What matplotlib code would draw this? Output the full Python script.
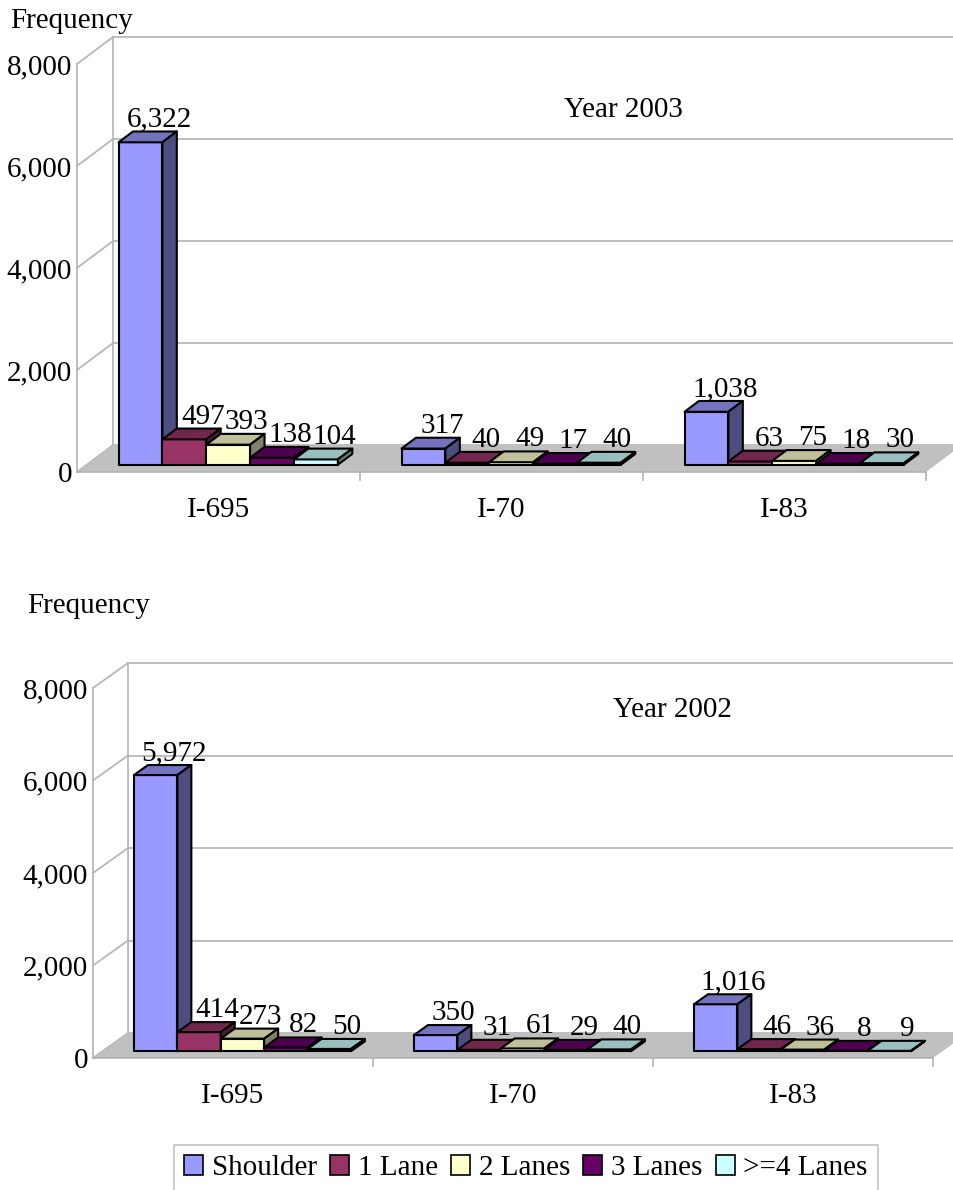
import matplotlib
matplotlib.use("Agg")
import matplotlib.pyplot as plt
from matplotlib.patches import Polygon, Patch
from matplotlib.colors import to_rgb

plt.rcParams['font.family'] = ['Liberation Serif', 'DejaVu Serif']

roads = ['I-695', 'I-70', 'I-83']
lanes = ['Shoulder', '1 Lane', '2 Lanes', '3 Lanes', '>=4 Lanes']
colors = ['#9999ff', '#993366', '#ffffcc', '#660066', '#ccffff']

# rows: road, columns: lane
freq_2003 = [[6322, 497, 393, 138, 104],
             [317, 40, 49, 17, 40],
             [1038, 63, 75, 18, 30]]
freq_2002 = [[5972, 414, 273, 82, 50],
             [350, 31, 61, 29, 40],
             [1016, 46, 36, 8, 9]]
yticks = [0, 2000, 4000, 6000, 8000]
ymax = 8000

W, H = 954, 1190
GRID = '#b3b3b3'
FS = 21

fig = plt.figure(figsize=(W / 100, H / 100), dpi=100)

# front plane of each chart in pixels: left, right, y of 0, y of 8000, depth (dx, dy)
panels = [
    dict(data=freq_2003, title='Year 2003', front=(77, 926, 472, 64), depth=(36, 27),
         title_xy=(623, 110), freq_xy=(10, 28)),
    dict(data=freq_2002, title='Year 2002', front=(93, 933, 1058, 688), depth=(35, 25),
         title_xy=(672, 710), freq_xy=(27, 613)),
]

bar_w = 0.155
d0, d1 = 0.27, 0.67


def shade(c, k):
    r, g, b = to_rgb(c)
    return (r * k, g * k, b * k)


for p in panels:
    left, right, y0, ytop = p['front']
    ax = fig.add_axes([left / W, 1 - y0 / H, (right - left) / W, (y0 - ytop) / H])
    ax.set_xlim(0, len(roads))
    ax.set_ylim(0, ymax)
    ax.axis('off')

    # depth vector in data units
    ddx = p['depth'][0] / ax.bbox.width * len(roads)
    ddy = p['depth'][1] / ax.bbox.height * ymax

    def P(c, v, d):
        return (c + d * ddx, v + d * ddy)

    n = len(roads)
    # floor
    ax.add_patch(Polygon([P(0, 0, 0), P(n, 0, 0), P(n, 0, 1), P(0, 0, 1)],
                         closed=True, facecolor='#c0c0c0', edgecolor='none',
                         zorder=1, clip_on=False))
    # back wall grid and side wall
    for t in yticks:
        a, b = P(0, t, 1), P(n, t, 1)
        ax.plot([a[0], b[0]], [a[1], b[1]], color=GRID, lw=1.2, zorder=0.5, clip_on=False)
        a, b = P(0, t, 0), P(0, t, 1)
        ax.plot([a[0], b[0]], [a[1], b[1]], color=GRID, lw=1.2, zorder=0.5, clip_on=False)
        ax.annotate(f'{t:,}', xy=P(0, t, 0), xytext=(-5, 0), textcoords='offset pixels',
                    ha='right', va='center_baseline', fontsize=FS, annotation_clip=False)
    for d in (0, 1):
        a, b = P(0, 0, d), P(0, ymax, d)
        ax.plot([a[0], b[0]], [a[1], b[1]], color=GRID, lw=1.2, zorder=0.5, clip_on=False)
    # front x-axis with category ticks
    tick_len = 8 / ax.bbox.height * ymax
    ax.plot([0, n], [0, 0], color=GRID, lw=1.2, zorder=1.5, clip_on=False)
    for i in range(1, n + 1):
        ax.plot([i, i], [0, -tick_len], color=GRID, lw=1.2, zorder=1.5, clip_on=False)
    for i, r in enumerate(roads):
        ax.annotate(r, xy=(i + 0.5, 0), xytext=(0, -45), textcoords='offset pixels',
                    ha='center', va='baseline', fontsize=FS, annotation_clip=False)

    # bars
    z = 2
    for i in range(n):
        for j, lane in enumerate(lanes):
            v = p['data'][i][j]
            c0 = i + 0.5 + (j - len(lanes) / 2) * bar_w
            c1 = c0 + bar_w
            col = colors[j]
            faces = [
                ([P(c0, 0, d0), P(c1, 0, d0), P(c1, v, d0), P(c0, v, d0)], to_rgb(col)),
                ([P(c0, v, d0), P(c1, v, d0), P(c1, v, d1), P(c0, v, d1)], shade(col, 0.75)),
                ([P(c1, 0, d0), P(c1, 0, d1), P(c1, v, d1), P(c1, v, d0)], shade(col, 0.5)),
            ]
            for pts, fc in faces:
                ax.add_patch(Polygon(pts, closed=True, facecolor=fc, edgecolor='black',
                                     lw=1.5, joinstyle='round', zorder=z, clip_on=False))
            z += 0.01
            ax.annotate(f'{v:,}', xy=P((c0 + c1) / 2, v, d1), xytext=(4, 5),
                        textcoords='offset pixels', ha='center', va='baseline',
                        fontsize=FS, zorder=5, annotation_clip=False)

    tx, ty = p['title_xy']
    fig.text(tx / W, 1 - ty / H, p['title'], ha='center', va='center', fontsize=FS)
    fx, fy = p['freq_xy']
    fig.text(fx / W, 1 - fy / H, 'Frequency', ha='left', va='baseline', fontsize=FS)

handles = [Patch(facecolor=c, edgecolor='black', lw=1.2) for c in colors]
leg = fig.legend(handles, lanes, ncol=5, loc='upper center',
                 bbox_to_anchor=(526 / W, 1 - 1145 / H), frameon=True, fancybox=False,
                 edgecolor=GRID, fontsize=FS, handlelength=0.65, handleheight=0.65,
                 handletextpad=0.3, columnspacing=0.45, borderpad=0.35, borderaxespad=0)
leg.get_frame().set_linewidth(1.2)

fig.savefig('out.png', dpi=100, facecolor='white')
